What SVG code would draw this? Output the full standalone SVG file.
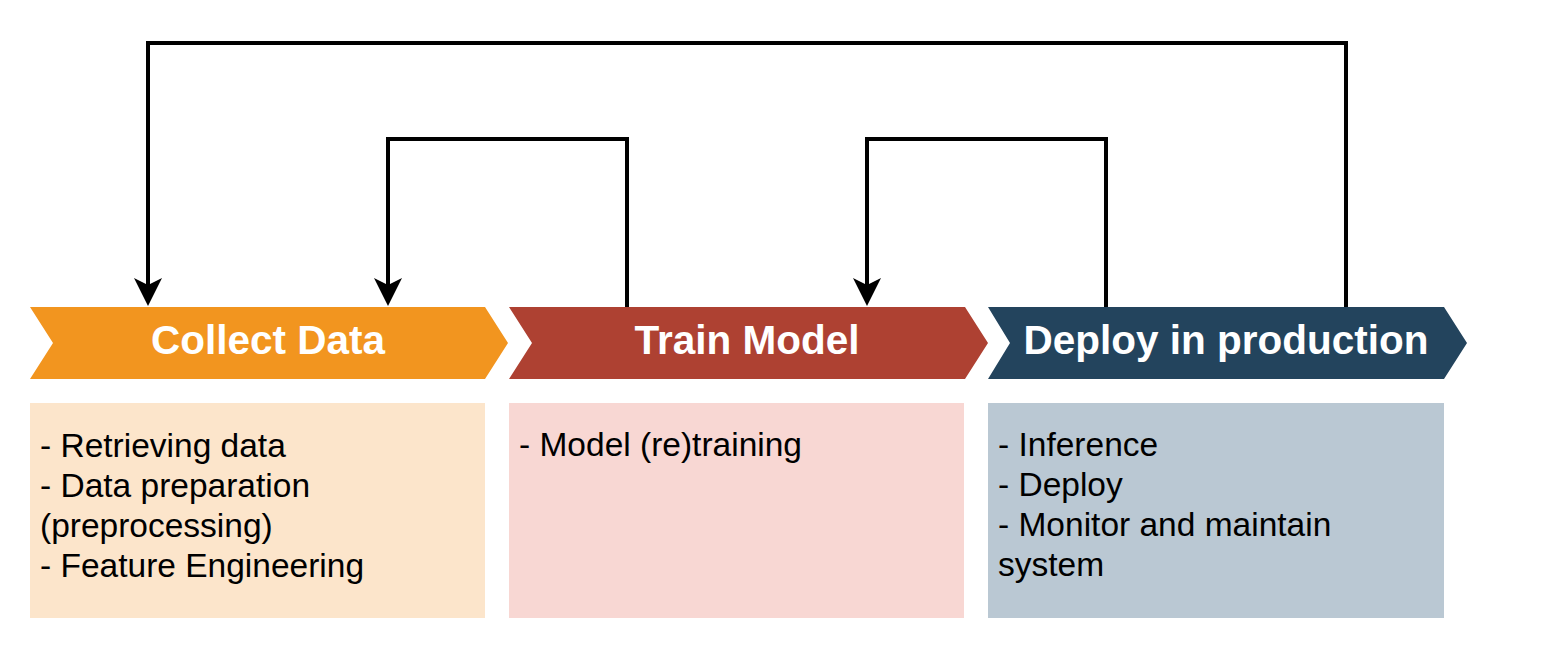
<svg xmlns="http://www.w3.org/2000/svg" width="1545" height="645" viewBox="0 0 1545 645">
  <style>
    .head { font-family: "Liberation Sans", Arial, sans-serif; font-weight: bold; font-size: 40.5px; fill: #ffffff; text-anchor: middle; }
    .body { font-family: "Liberation Sans", Arial, sans-serif; font-size: 33.5px; fill: #000000; }
    .conn { fill: none; stroke: #000000; stroke-width: 4; marker-end: url(#arrow); }
  </style>
  <defs>
    <marker id="arrow" markerUnits="userSpaceOnUse" markerWidth="28" markerHeight="28" viewBox="0 0 28 28" refX="7" refY="14" orient="auto">
      <path d="M0,0 L28,14 L0,28 L7,14 Z" fill="#000000"/>
    </marker>
  </defs>
  <rect width="1545" height="645" fill="#ffffff"/>

  <g id="collect-data">
    <polygon points="30,307 485,307 508,343 485,379 30,379 53,343" fill="#F2951F"/>
    <text class="head" x="268" y="354">Collect Data</text>
  </g>
  <g id="train-model">
    <polygon points="509,307 965,307 988,343 965,379 509,379 532,343" fill="#AE4132"/>
    <text class="head" x="747" y="354">Train Model</text>
  </g>
  <g id="deploy">
    <polygon points="988,307 1444,307 1467,343 1444,379 988,379 1010,343" fill="#23445D"/>
    <text class="head" x="1226" y="354">Deploy in production</text>
  </g>

  <g id="collect-data-details">
    <rect x="30" y="403" width="455" height="215" fill="#FCE5CB"/>
    <text class="body" x="40" y="456.5">- Retrieving data</text>
    <text class="body" x="40" y="496.5">- Data preparation</text>
    <text class="body" x="40" y="536.5">(preprocessing)</text>
    <text class="body" x="40" y="576.5">- Feature Engineering</text>
  </g>
  <g id="train-model-details">
    <rect x="509" y="403" width="455" height="215" fill="#F8D7D3"/>
    <text class="body" x="519" y="456">- Model (re)training</text>
  </g>
  <g id="deploy-details">
    <rect x="988" y="403" width="456" height="215" fill="#BAC8D3"/>
    <text class="body" x="998" y="456">- Inference</text>
    <text class="body" x="998" y="496">- Deploy</text>
    <text class="body" x="998" y="536">- Monitor and maintain</text>
    <text class="body" x="998" y="576">system</text>
  </g>

  <g id="connectors">
    <path class="conn" d="M1346,307 V43 H148 V285"/>
    <path class="conn" d="M627,307 V139 H388 V285"/>
    <path class="conn" d="M1106,307 V139 H867 V285"/>
  </g>
</svg>
